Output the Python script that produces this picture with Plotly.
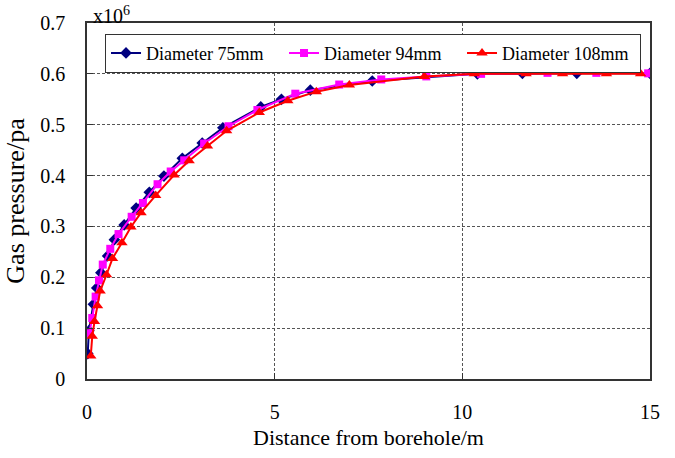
import plotly.graph_objects as go

# Distance from borehole (m) and gas pressure (x10^6 Pa)
d75_x = [0.02, 0.05, 0.17, 0.26, 0.37, 0.55, 0.73, 0.99, 1.31, 1.66, 2.05, 2.54, 3.07, 3.62, 4.63, 5.18, 5.95, 7.6, 10.4, 11.6, 13.05, 15.0]
d75_y = [0.050, 0.095, 0.147, 0.179, 0.209, 0.242, 0.274, 0.303, 0.336, 0.367, 0.399, 0.434, 0.464, 0.494, 0.535, 0.550, 0.568, 0.586, 0.600, 0.601, 0.601, 0.601]

d94_x = [0.06, 0.14, 0.23, 0.32, 0.42, 0.62, 0.84, 1.19, 1.49, 1.88, 2.23, 2.59, 3.12, 3.77, 4.54, 5.55, 6.72, 7.84, 9.04, 10.5, 12.27, 13.57, 14.95]
d94_y = [0.090, 0.120, 0.162, 0.194, 0.225, 0.256, 0.285, 0.319, 0.346, 0.383, 0.408, 0.430, 0.463, 0.497, 0.529, 0.561, 0.579, 0.589, 0.595, 0.600, 0.602, 0.602, 0.601]

d108_x = [0.1, 0.14, 0.2, 0.28, 0.35, 0.52, 0.68, 0.93, 1.17, 1.44, 1.83, 2.32, 2.72, 3.21, 3.72, 4.59, 5.35, 6.11, 6.99, 8.99, 10.32, 11.7, 12.67, 13.84, 14.75]
d108_y = [0.045, 0.084, 0.113, 0.144, 0.173, 0.205, 0.237, 0.268, 0.299, 0.327, 0.361, 0.401, 0.429, 0.458, 0.488, 0.524, 0.547, 0.565, 0.578, 0.595, 0.600, 0.600, 0.600, 0.600, 0.600]

series_names = ["Diameter 75mm", "Diameter 94mm", "Diameter 108mm"]

FONT = "Times New Roman, Liberation Serif, serif"

fig = go.Figure()
fig.add_trace(go.Scatter(x=d75_x, y=d75_y, name=series_names[0], mode="lines+markers",
                         line=dict(color="#000080", width=2),
                         marker=dict(symbol="diamond", size=9, color="#000080")))
fig.add_trace(go.Scatter(x=d94_x, y=d94_y, name=series_names[1], mode="lines+markers",
                         line=dict(color="#FF00FF", width=2),
                         marker=dict(symbol="square", size=8, color="#FF00FF")))
fig.add_trace(go.Scatter(x=d108_x, y=d108_y, name=series_names[2], mode="lines+markers",
                         line=dict(color="#FF0000", width=2),
                         marker=dict(symbol="triangle-up", size=10, color="#FF0000")))

fig.update_layout(
    width=675, height=458,
    margin=dict(l=87, r=25, t=23, b=73),
    paper_bgcolor="white", plot_bgcolor="white",
    font=dict(family=FONT, color="black", size=20),
    showlegend=True,
    legend=dict(orientation="h", x=0.032, y=0.97, xanchor="left", yanchor="top",
                bgcolor="white", bordercolor="#333333", borderwidth=1,
                font=dict(family=FONT, size=18, color="black"),
                entrywidth=133, entrywidthmode="pixels", tracegroupgap=0),
    annotations=[dict(text="x10<sup>6</sup>", x=0, y=1, xref="paper", yref="paper",
                      xanchor="left", yanchor="bottom", showarrow=False,
                      xshift=4, yshift=-6, font=dict(family=FONT, size=20, color="black"))],
)

fig.update_xaxes(range=[0, 15], dtick=5, tick0=0,
                 showline=True, mirror=True, linecolor="#333333", linewidth=1.5,
                 ticks="inside", ticklen=6, tickcolor="#333333",
                 showgrid=True, gridcolor="#555555", gridwidth=1, griddash="3px,2px",
                 zeroline=False, ticklabelstandoff=14,
                 tickfont=dict(family=FONT, size=20, color="black"),
                 title=dict(text="Distance from borehole/m",
                            font=dict(family=FONT, size=22, color="black"), standoff=8))
fig.update_yaxes(range=[0, 0.7], dtick=0.1, tick0=0,
                 showline=True, mirror=True, linecolor="#333333", linewidth=1.5,
                 ticks="inside", ticklen=6, tickcolor="#333333",
                 showgrid=True, gridcolor="#555555", gridwidth=1, griddash="3px,2px",
                 zeroline=False, ticklabelstandoff=16,
                 tickfont=dict(family=FONT, size=20, color="black"),
                 title=dict(text="Gas pressure/pa",
                            font=dict(family=FONT, size=26, color="black"), standoff=8))

fig.write_html("out.html")
